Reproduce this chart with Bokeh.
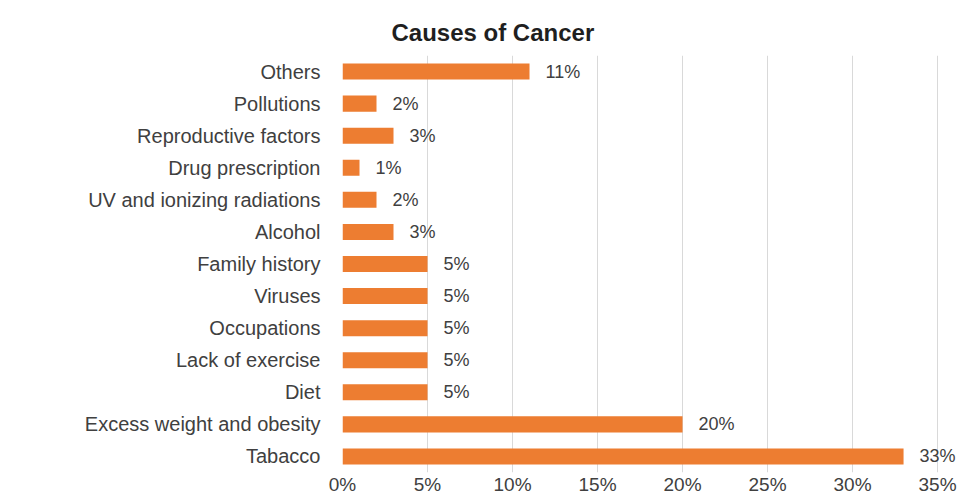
from bokeh.plotting import figure
from bokeh.models import Range1d, FixedTicker, Title, ColumnDataSource
from bokeh.embed import file_html
from bokeh.resources import INLINE
from bokeh.core.properties import value

# Data (bottom to top)
categories = ["Tabacco", "Excess weight and obesity", "Diet", "Lack of exercise",
              "Occupations", "Viruses", "Family history", "Alcohol",
              "UV and ionizing radiations", "Drug prescription",
              "Reproductive factors", "Pollutions", "Others"]
values = [33, 20, 5, 5, 5, 5, 5, 3, 2, 1, 3, 2, 11]
tick_values = [0, 5, 10, 15, 20, 25, 30, 35]
tick_labels = ["0%", "5%", "10%", "15%", "20%", "25%", "30%", "35%"]
value_labels = [f"{v}%" for v in values]

FONT = "Liberation Sans"

src = ColumnDataSource(dict(cat=categories, val=values, lab=value_labels))

p = figure(width=968, height=500, y_range=categories, x_range=Range1d(0, 36.82),
           output_backend="svg", toolbar_location=None,
           min_border_left=342, min_border_right=0, min_border_top=55,
           min_border_bottom=28)

p.hbar(y="cat", right="val", left=0, height=0.5, source=src,
       fill_color="#ED7D31", line_color=None)

p.text(x="val", y="cat", text="lab", source=src, x_offset=16,
       text_align="left", text_baseline="middle",
       text_font=value(FONT), text_font_size="18px", text_color="#404040")

p.xaxis.ticker = FixedTicker(ticks=tick_values)
p.xaxis.major_label_overrides = {t: l for t, l in zip(tick_values, tick_labels)}
for ax in (p.xaxis, p.yaxis):
    ax.axis_line_color = None
    ax.major_tick_line_color = None
    ax.minor_tick_line_color = None
    ax.major_label_text_font = FONT
    ax.major_label_text_color = "#404040"
p.yaxis.major_label_text_font_size = "20px"
p.xaxis.major_label_text_font_size = "19px"
p.xaxis.major_tick_in = 0
p.xaxis.major_tick_out = 0
p.xaxis.major_label_standoff = 1
p.yaxis.major_label_standoff = 16

p.ygrid.grid_line_color = None
p.xgrid.grid_line_color = "#D9D9D9"
p.xgrid.grid_line_width = 1
p.outline_line_color = None

title = Title(text="Causes of Cancer", align="left", offset=49, standoff=20,
              text_font=FONT, text_font_size="24px", text_font_style="bold",
              text_color="#1f1f1f")
p.add_layout(title, "above")

open("out.html", "w").write(file_html(p, INLINE))
